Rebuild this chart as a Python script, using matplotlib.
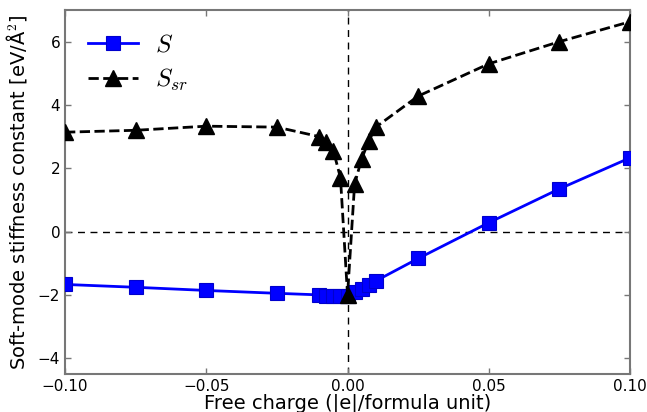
import matplotlib
matplotlib.use('Agg')
import matplotlib.pyplot as plt

# free charge per formula unit
charge = [-0.1, -0.075, -0.05, -0.025, -0.01, -0.0075, -0.005, -0.0025, 0.0,
          0.0025, 0.005, 0.0075, 0.01, 0.025, 0.05, 0.075, 0.1]
# soft-mode stiffness constants (eV/A^2)
S = [-1.67, -1.76, -1.86, -1.95, -2.0, -2.02, -2.03, -2.04, -2.05,
     -1.92, -1.8, -1.68, -1.56, -0.85, 0.28, 1.35, 2.33]
S_sr = [3.14, 3.2, 3.33, 3.3, 3.0, 2.83, 2.55, 1.7, -2.0,
        1.5, 2.3, 2.86, 3.3, 4.28, 5.3, 6.0, 6.63]

plt.rcParams['mathtext.fontset'] = 'cm'

fig = plt.figure(figsize=(6.47, 4.12), dpi=100)
ax = fig.add_axes([0.1005, 0.0922, 0.8733, 0.8835])

ax.axhline(0, color='k', ls='--', lw=1, dashes=(5, 4), zorder=1)
ax.axvline(0, color='k', ls='--', lw=1, dashes=(5, 4), zorder=1)

ax.plot(charge, S, color='#0000ff', lw=2, marker='s', ms=10,
        mec='#0000cc', mew=0.8, label=r'$S$', zorder=3)
ax.plot(charge, S_sr, color='k', lw=2, ls='--', marker='^', ms=11,
        label=r'$S_{sr}$', zorder=4)

ax.set_xlim(-0.1, 0.1)
ax.set_ylim(-4.5, 7)
ax.set_xticks([-0.1, -0.05, 0.0, 0.05, 0.1])
ax.set_yticks([-4, -2, 0, 2, 4, 6])
ax.tick_params(direction='in', top=True, right=True, length=4, width=1,
               color='#777777', labelsize=11)
ax.set_xticklabels(['\u22120.10', '\u22120.05', '0.00', '0.05', '0.10'])
ax.set_yticklabels(['\u22124', '\u22122', '0', '2', '4', '6'])
for sp in ax.spines.values():
    sp.set_color('#777777')
    sp.set_linewidth(1.5)

ax.set_xlabel('Free charge (|e|/formula unit)', fontsize=14, labelpad=0)
ax.set_ylabel('Soft-mode stiffness constant [eV/Å$^2$]', fontsize=14, labelpad=6)

ax.legend(loc='upper left', frameon=False, fontsize=18, handlelength=2.0,
          handletextpad=0.7, numpoints=1, labelspacing=0.4,
          borderaxespad=0.5)

fig.savefig('out.png', dpi=100)
